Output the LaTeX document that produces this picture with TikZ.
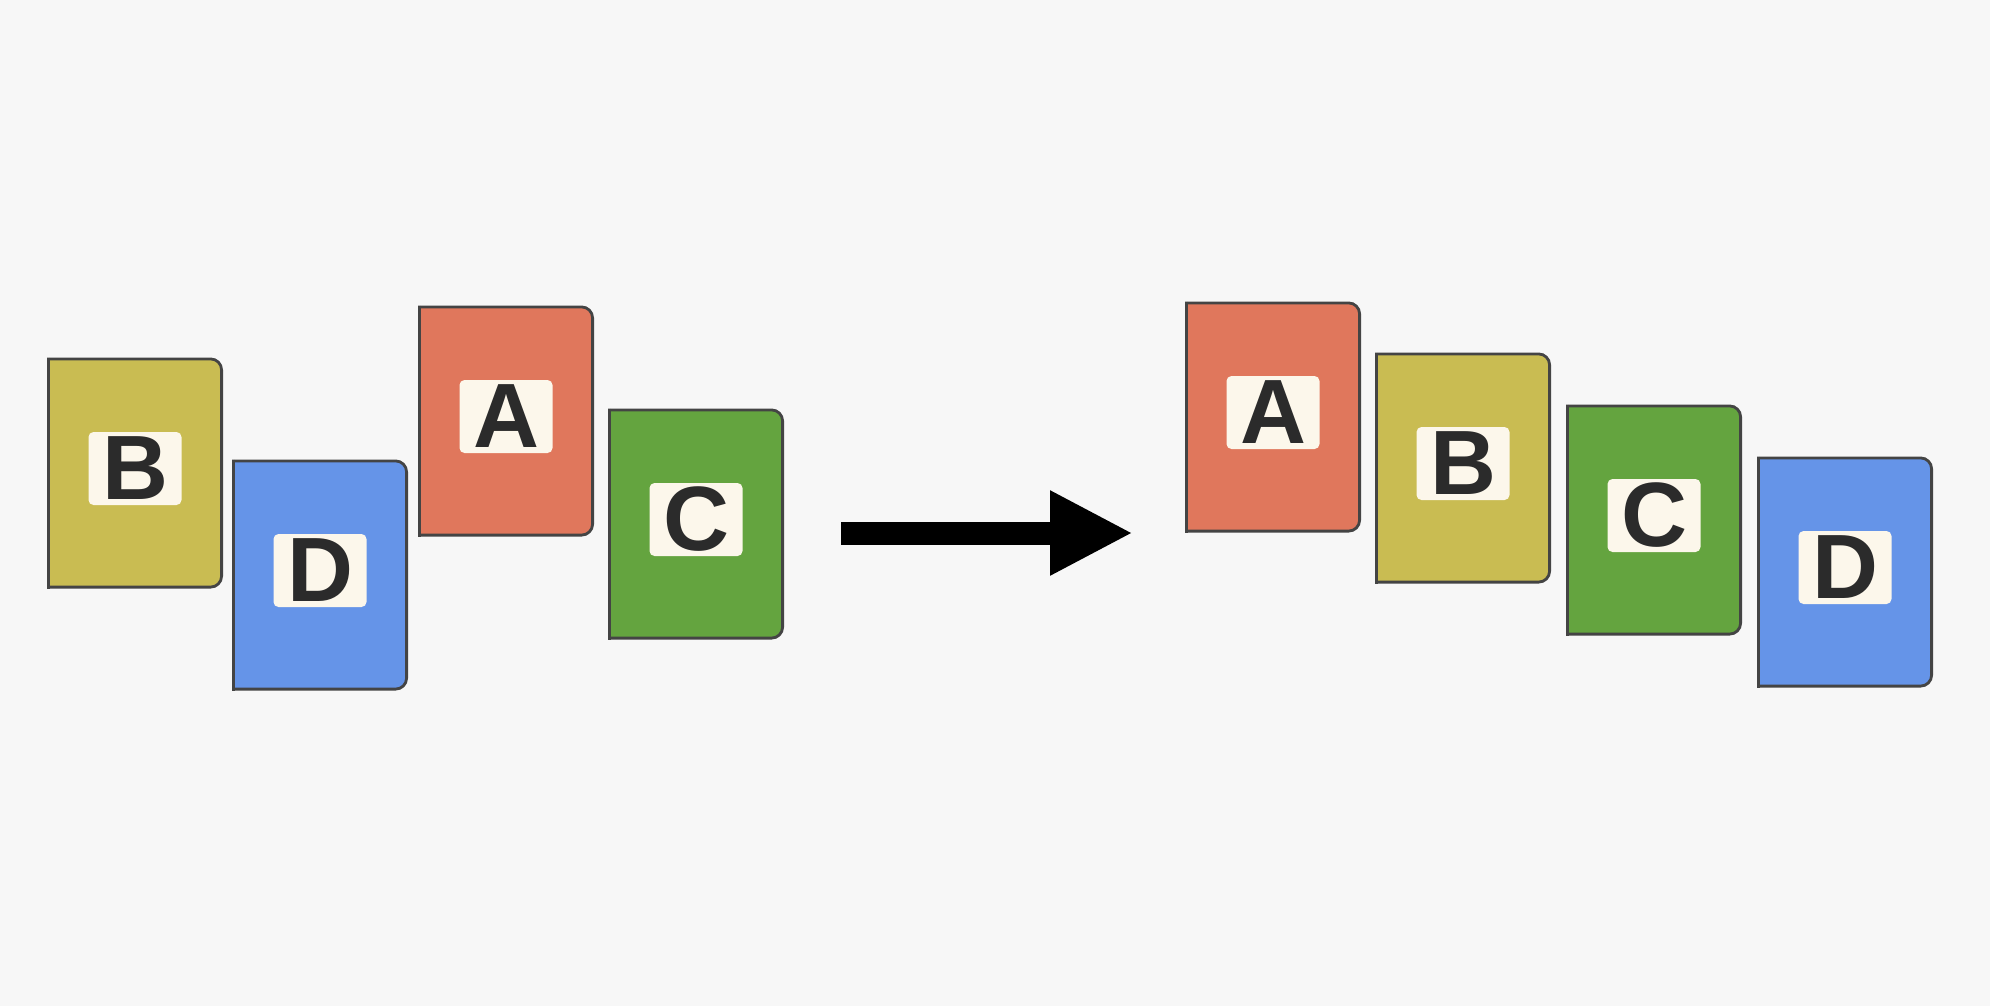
\documentclass[tikz,border=0pt]{standalone}
\usepackage{fontspec}
\setmainfont{Liberation Sans}
\usetikzlibrary{arrows.meta}
\definecolor{bgpaper}{HTML}{F7F7F7}
\definecolor{bookA}{HTML}{E0775C}
\definecolor{bookB}{HTML}{C9BC52}
\definecolor{bookC}{HTML}{64A43F}
\definecolor{bookD}{HTML}{6594E8}
\definecolor{tagfill}{HTML}{FCF7EB}
\definecolor{tagtext}{HTML}{2B2B2B}
\definecolor{bookedge}{HTML}{444444}

\begin{document}
\begin{tikzpicture}[x=0.1mm,y=-0.1mm,
 book/.style ={rectangle, draw=none, inner sep=0pt, minimum width=17.6mm, minimum height=23.1mm,
  path picture={
   \filldraw[fill=#1, draw=bookedge, line width=0.8pt, rounded corners=1.1mm]
    ([shift={(-3mm,-0.4pt)}]path picture bounding box.north west) rectangle
    ([shift={(-0.4pt,0.4pt)}]path picture bounding box.south east);
   \draw[bookedge, line width=0.8pt]
    ([xshift=0.4pt]path picture bounding box.north west) --
    ([xshift=0.4pt]path picture bounding box.south west);
  }},
 tag/.style ={rectangle, fill=tagfill, text=tagtext, rounded corners=0.5mm, inner sep=0pt,
  minimum width=9.3mm, minimum height=7.3mm, yshift=0.45mm, font=\fontsize{26}{26}\selectfont\bfseries},
 bigarrow/.style ={draw=black, line width=2.3mm, -{Triangle[length=8.3mm, width=7.9mm]}}]

\useasboundingbox (0,0) rectangle (1990,1006);
\fill[bgpaper] (0,0) rectangle (1990,1006);

% before
\node[book=bookB] (B1) at (135,473) {};
\node[tag] (tB1) at (B1) {B};
\node[book=bookD] (D1) at (320,575) {};
\node[tag] (tD1) at (D1) {D};
\node[book=bookA] (A1) at (506,421) {};
\node[tag] (tA1) at (A1) {A};
\node[book=bookC] (C1) at (696,524) {};
\node[tag] (tC1) at (C1) {C};

% after
\node[book=bookA] (A2) at (1273,417) {};
\node[tag] (tA2) at (A2) {A};
\node[book=bookB] (B2) at (1463,468) {};
\node[tag] (tB2) at (B2) {B};
\node[book=bookC] (C2) at (1654,520) {};
\node[tag] (tC2) at (C2) {C};
\node[book=bookD] (D2) at (1845,572) {};
\node[tag] (tD2) at (D2) {D};

\coordinate (arrL) at (841,533);
\coordinate (arrR) at (1133,533);
\draw[bigarrow] (arrL) -- (arrR);

\end{tikzpicture}
\end{document}
